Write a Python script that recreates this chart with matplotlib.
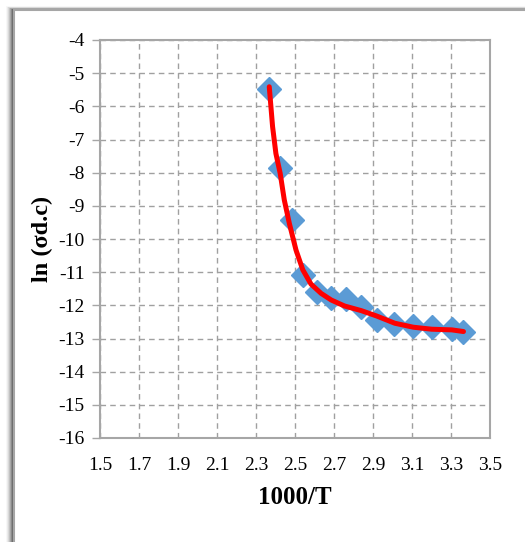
import matplotlib
matplotlib.use("Agg")
import matplotlib.pyplot as plt
from matplotlib.patches import Rectangle

# Measured data points (diamonds)
x_pts = [2.368, 2.424, 2.485, 2.540, 2.613, 2.686, 2.763, 2.840, 2.918, 3.009, 3.103, 3.201, 3.304, 3.364]
y_pts = [-5.49, -7.87, -9.43, -11.08, -11.59, -11.79, -11.82, -12.04, -12.44, -12.57, -12.61, -12.66, -12.70, -12.79]

# Smooth fitted curve
x_fit = [2.368, 2.385, 2.402, 2.424, 2.445, 2.471, 2.505, 2.540, 2.582, 2.634, 2.686,
         2.754, 2.840, 2.918, 3.012, 3.107, 3.201, 3.304, 3.364]
y_fit = [-5.41, -6.61, -7.42, -8.02, -8.82, -9.53, -10.33, -10.93, -11.36, -11.64, -11.84,
         -12.02, -12.16, -12.32, -12.54, -12.66, -12.72, -12.74, -12.79]

x_ticks = [1.5, 1.7, 1.9, 2.1, 2.3, 2.5, 2.7, 2.9, 3.1, 3.3, 3.5]
y_ticks = list(range(-16, -3))

plt.rcParams['font.family'] = ['Liberation Serif', 'DejaVu Serif']

fig = plt.figure(figsize=(5.25, 5.42), dpi=100)

# outer chart frame with soft shadow on left/top
W, H = 525, 542
for i, a in enumerate([0.03, 0.05, 0.07, 0.1, 0.13, 0.17, 0.22, 0.28]):
    off = 8 - i
    fig.patches.append(Rectangle(((14 - off) / W, -0.1), 1, (H - 10 + off * 0.5) / H + 0.1,
                                 transform=fig.transFigure, facecolor=(0, 0, 0, a),
                                 edgecolor='none', zorder=0))
fig.patches.append(Rectangle((14 / W, -0.1), 1, (H - 10) / H + 0.1,
                             transform=fig.transFigure, facecolor='white',
                             edgecolor='#A6A6A6', linewidth=1.5, zorder=1))

ax = fig.add_axes([100 / W, 1 - 438 / H, (490 - 100) / W, (438 - 40) / H])
ax.set_zorder(2)
ax.set_facecolor('white')

ax.plot(x_pts, y_pts, linestyle='none', marker='D', markersize=12.5,
        color='#5B9BD5', markeredgecolor='#5B9BD5', zorder=3)
ax.plot(x_fit, y_fit, color='#FF0000', linewidth=3.6, solid_capstyle='round', zorder=4)

ax.set_xlim(1.5, 3.5)
ax.set_ylim(-16, -4)
ax.set_xticks(x_ticks)
ax.set_xticklabels([f"{v:.1f}" for v in x_ticks])
ax.set_yticks(y_ticks)
ax.set_yticklabels([str(v) for v in y_ticks])

ax.grid(True, color='#A0A0A0', linestyle=(0, (4, 3)), linewidth=1.0)
ax.set_axisbelow(True)
for s in ax.spines.values():
    s.set_color('#A6A6A6')
    s.set_linewidth(1.5)

ax.tick_params(axis='x', length=0, labelsize=14, pad=14, colors='black')
ax.tick_params(axis='y', length=6, width=1, color='#A6A6A6', labelsize=14, pad=5, labelcolor='black')

ax.set_xlabel('1000/T', fontsize=18, fontweight='bold', labelpad=8)
ax.set_ylabel('ln (σd.c)', fontsize=17.5, fontweight='bold', labelpad=4)

fig.savefig('out.png', dpi=100)
